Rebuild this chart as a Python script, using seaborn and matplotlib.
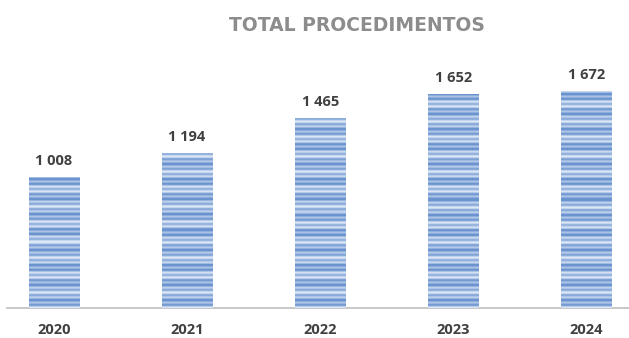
import numpy as np
import pandas as pd
import matplotlib
matplotlib.use("Agg")
import matplotlib.pyplot as plt
import seaborn as sns

# Annual totals of procedures
years = ["2020", "2021", "2022", "2023", "2024"]
totals = [1008, 1194, 1465, 1652, 1672]
value_labels = ["1 008", "1 194", "1 465", "1 652", "1 672"]
title = "TOTAL PROCEDIMENTOS"

df = pd.DataFrame({"ano": years, "total": totals})

sns.set_theme(style="white")
plt.rcParams["font.family"] = ["Open Sans", "DejaVu Sans"]

fig = plt.figure(figsize=(6.29, 3.38), dpi=100)
ax = fig.add_axes([7 / 629, 30 / 338, 622 / 629, 268 / 338])

sns.barplot(data=df, x="ano", y="total", color="#7aa0d8", width=0.376,
            saturation=1, ax=ax, linewidth=0)

ax.set_xlim(-0.353, 4.32)
ax.set_ylim(0, 2066)

# Horizontal striped fill for each bar: medium blue with thin light lines
rows = np.arange(400)
a = np.cos(rows * 2 * np.pi / 5.0)
b = np.cos(rows * 2 * np.pi / 17.0 + 0.7)
shade = np.clip(0.45 + 0.35 * a + 0.25 * b, 0, 1)
dark = np.array([0x6a, 0x93, 0xcf]) / 255
light = np.array([0xdc, 0xe7, 0xf6]) / 255
stripes = dark[None, :] * (1 - shade[:, None]) + light[None, :] * shade[:, None]
stripes = np.repeat(stripes[:, None, :], 2, axis=1)

for patch in ax.patches:
    x0, y0 = patch.get_x(), patch.get_y()
    w, h = patch.get_width(), patch.get_height()
    n = max(int(h / 2066 * 268), 2)
    img = ax.imshow(stripes[:n], extent=(x0, x0 + w, y0, y0 + h),
                    aspect="auto", origin="lower", interpolation="nearest", zorder=3)
    img.set_clip_path(patch)

for i, (v, lab) in enumerate(zip(totals, value_labels)):
    ax.text(i, v + 70, lab, ha="center", va="bottom", fontsize=10.5,
            fontweight="bold", color="#404040")

ax.set_xlabel("")
ax.set_ylabel("")
ax.set_yticks([])
ax.tick_params(axis="x", length=0, pad=11, labelsize=10.5, labelcolor="#404040")
for t in ax.get_xticklabels():
    t.set_fontweight("bold")

for side in ["left", "right", "top"]:
    ax.spines[side].set_visible(False)
ax.spines["bottom"].set_color("#bfbfbf")
ax.spines["bottom"].set_linewidth(1.2)

fig.text(0.568, 0.925, title, ha="center", va="center", fontsize=13.5,
         fontweight="semibold", color="#8c8c8c", family=["DejaVu Sans"])

fig.savefig("out.png", dpi=100, facecolor="white")
